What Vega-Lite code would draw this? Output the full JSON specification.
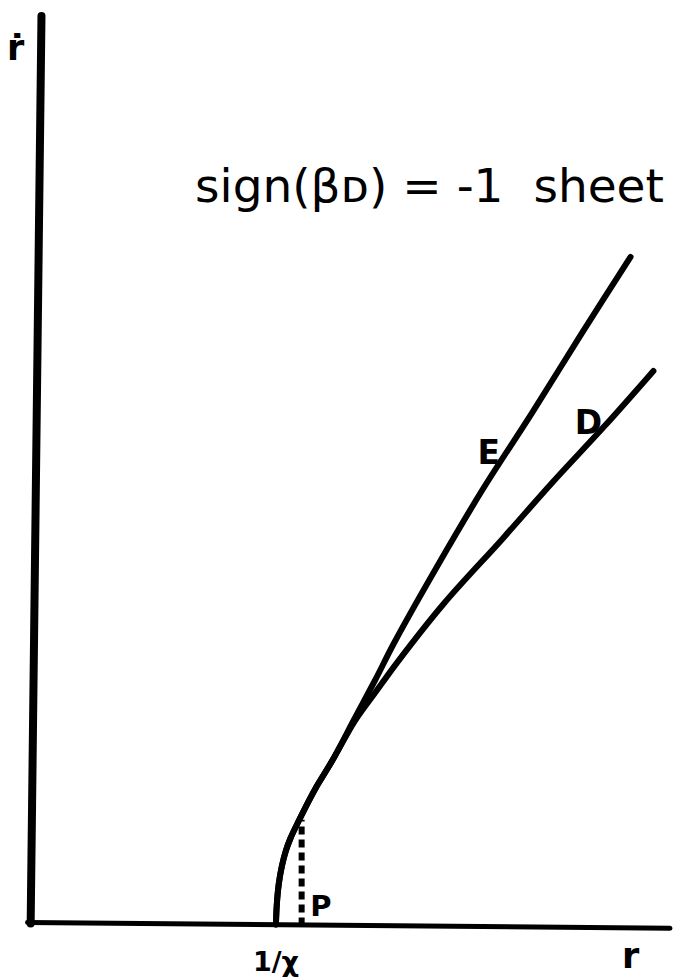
{
  "$schema": "https://vega.github.io/schema/vega-lite/v6.json",
  "width": 680,
  "height": 977,
  "padding": 0,
  "autosize": {"type": "fit", "contains": "padding"},
  "background": "white",
  "config": {"view": {"stroke": null}},
  "datasets": {
    "curves": [
      {"curve": "E", "r": 1.000, "rdot": 0.000},
      {"curve": "E", "r": 1.004, "rdot": 0.086},
      {"curve": "E", "r": 1.012, "rdot": 0.168},
      {"curve": "E", "r": 1.025, "rdot": 0.242},
      {"curve": "E", "r": 1.041, "rdot": 0.303},
      {"curve": "E", "r": 1.061, "rdot": 0.357},
      {"curve": "E", "r": 1.090, "rdot": 0.418},
      {"curve": "E", "r": 1.123, "rdot": 0.484},
      {"curve": "E", "r": 1.164, "rdot": 0.561},
      {"curve": "E", "r": 1.234, "rdot": 0.676},
      {"curve": "E", "r": 1.328, "rdot": 0.852},
      {"curve": "E", "r": 1.414, "rdot": 1.012},
      {"curve": "E", "r": 1.492, "rdot": 1.164},
      {"curve": "E", "r": 1.668, "rdot": 1.475},
      {"curve": "E", "r": 1.861, "rdot": 1.799},
      {"curve": "E", "r": 2.066, "rdot": 2.115},
      {"curve": "E", "r": 2.270, "rdot": 2.439},
      {"curve": "E", "r": 2.475, "rdot": 2.758},
      {"curve": "D", "r": 1.000, "rdot": 0.000},
      {"curve": "D", "r": 1.004, "rdot": 0.086},
      {"curve": "D", "r": 1.012, "rdot": 0.168},
      {"curve": "D", "r": 1.025, "rdot": 0.242},
      {"curve": "D", "r": 1.041, "rdot": 0.303},
      {"curve": "D", "r": 1.061, "rdot": 0.357},
      {"curve": "D", "r": 1.090, "rdot": 0.418},
      {"curve": "D", "r": 1.123, "rdot": 0.484},
      {"curve": "D", "r": 1.164, "rdot": 0.561},
      {"curve": "D", "r": 1.234, "rdot": 0.676},
      {"curve": "D", "r": 1.328, "rdot": 0.840},
      {"curve": "D", "r": 1.414, "rdot": 0.959},
      {"curve": "D", "r": 1.504, "rdot": 1.082},
      {"curve": "D", "r": 1.697, "rdot": 1.324},
      {"curve": "D", "r": 1.943, "rdot": 1.594},
      {"curve": "D", "r": 2.148, "rdot": 1.824},
      {"curve": "D", "r": 2.365, "rdot": 2.057},
      {"curve": "D", "r": 2.570, "rdot": 2.287}
    ],
    "axes": [
      {"axis": "rdot", "r": 0.025, "rdot": 3.754},
      {"axis": "rdot", "r": -0.020, "rdot": 0.004},
      {"axis": "r", "r": -0.033, "rdot": 0.008},
      {"axis": "r", "r": 2.639, "rdot": -0.016}
    ],
    "pointP": [
      {"r": 1.107, "rdot": 0.432},
      {"r": 1.107, "rdot": -0.004}
    ],
    "labels": [
      {"label": "ṙ", "kind": "axis", "r": -0.082, "rdot": 3.570},
      {"label": "r", "kind": "axis", "r": 2.475, "rdot": -0.180},
      {"label": "1/χ", "kind": "tick", "r": 1.000, "rdot": -0.193},
      {"label": "P", "kind": "point", "r": 1.143, "rdot": 0.033},
      {"label": "E", "kind": "curve", "r": 1.885, "rdot": 1.902},
      {"label": "D", "kind": "curve", "r": 2.300, "rdot": 2.025},
      {"label": "sign(βᴅ) = -1\u00a0\u00a0sheet", "kind": "title", "r": 0.664, "rdot": 2.984}
    ]
  },
  "encoding": {
    "x": {"field": "r", "type": "quantitative", "scale": {"domain": [-0.1475, 2.639], "nice": false, "zero": false}, "axis": null},
    "y": {"field": "rdot", "type": "quantitative", "scale": {"domain": [-0.209, 3.795], "nice": false, "zero": false}, "axis": null}
  },
  "layer": [
    {
      "data": {"name": "axes"},
      "transform": [{"filter": "datum.axis === 'rdot'"}],
      "mark": {"type": "line", "color": "black", "strokeWidth": 8, "strokeCap": "round", "clip": false}
    },
    {
      "data": {"name": "axes"},
      "transform": [{"filter": "datum.axis === 'r'"}],
      "mark": {"type": "line", "color": "black", "strokeWidth": 5, "strokeCap": "round", "clip": false}
    },
    {
      "data": {"name": "curves"},
      "mark": {"type": "line", "color": "black", "strokeWidth": 6, "strokeCap": "round", "strokeJoin": "round", "interpolate": "catmull-rom"},
      "encoding": {"detail": {"field": "curve"}, "order": {"field": "r", "type": "quantitative"}}
    },
    {
      "data": {"name": "pointP"},
      "mark": {"type": "line", "color": "black", "strokeWidth": 6, "strokeDash": [8, 5], "strokeCap": "butt"},
      "encoding": {"order": {"field": "rdot", "type": "quantitative"}}
    },
    {
      "data": {"name": "labels"},
      "transform": [{"filter": "datum.kind === 'axis'"}],
      "mark": {"type": "text", "font": "DejaVu Sans", "fontWeight": "bold", "fontSize": 35, "align": "center", "baseline": "alphabetic"},
      "encoding": {"text": {"field": "label"}}
    },
    {
      "data": {"name": "labels"},
      "transform": [{"filter": "datum.kind === 'tick'"}],
      "mark": {"type": "text", "font": "DejaVu Sans", "fontWeight": "bold", "fontSize": 27, "align": "center", "baseline": "alphabetic"},
      "encoding": {"text": {"field": "label"}}
    },
    {
      "data": {"name": "labels"},
      "transform": [{"filter": "datum.kind === 'point'"}],
      "mark": {"type": "text", "font": "DejaVu Sans", "fontWeight": "bold", "fontSize": 29, "align": "left", "baseline": "alphabetic"},
      "encoding": {"text": {"field": "label"}}
    },
    {
      "data": {"name": "labels"},
      "transform": [{"filter": "datum.kind === 'curve'"}],
      "mark": {"type": "text", "font": "DejaVu Sans", "fontWeight": "bold", "fontSize": 33, "align": "center", "baseline": "alphabetic"},
      "encoding": {"text": {"field": "label"}}
    },
    {
      "data": {"name": "labels"},
      "transform": [{"filter": "datum.kind === 'title'"}],
      "mark": {"type": "text", "font": "DejaVu Sans", "fontWeight": "normal", "fontSize": 47, "align": "left", "baseline": "alphabetic"},
      "encoding": {"text": {"field": "label"}}
    }
  ]
}
